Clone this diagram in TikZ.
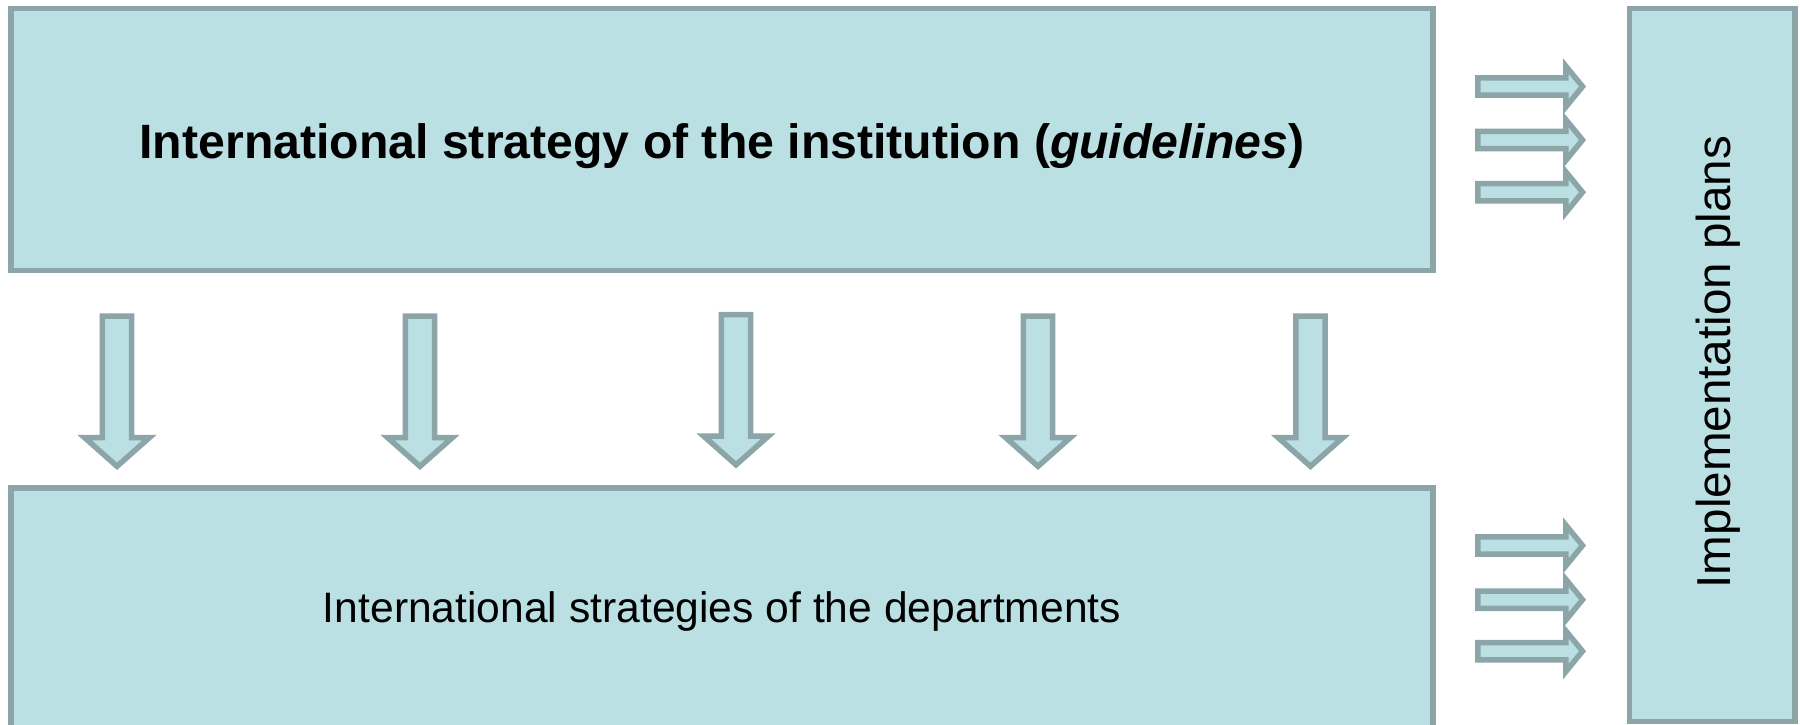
\documentclass[tikz,border=0pt]{standalone}
\usepackage{fontspec}
\setmainfont{Liberation Sans}
\definecolor{boxfill}{RGB}{187,224,227}
\definecolor{boxline}{RGB}{139,165,168}
\tikzset{
  x=1pt, y=-1pt,
  panel/.style={draw=boxline, fill=boxfill, line width=5.5pt, inner sep=0pt, outer sep=0pt, rectangle},
  blk/.style={draw=boxline, fill=boxfill, line width=5.5pt, line join=miter},
  downarr/.pic={\draw[blk] (-14.6,0) -- (14.6,0) -- (14.6,121.5) -- (32.5,121.5) -- (0,150.3) -- (-32.5,121.5) -- (-14.6,121.5) -- cycle;},
  rightarr/.pic={\draw[blk] (0,-8.6) -- (88,-8.6) -- (88,-20.5) -- (104.75,0) -- (88,20.5) -- (88,8.6) -- (0,8.6) -- cycle;},
  label/.style={inner sep=0pt, outer sep=0pt, anchor=base, text=black}
}
\begin{document}
\begin{tikzpicture}
\useasboundingbox (0,0) rectangle (1800,724);
\clip (0,0) rectangle (1800,724);
% boxes
\node[panel, minimum width=1422pt, minimum height=262pt] (inst) at (722,139.5) {};
\node[panel, minimum width=1422pt, minimum height=252pt] (dept) at (722,614) {};
\node[panel, minimum width=165.5pt, minimum height=713pt] (impl) at (1712.25,365) {};
% texts
\node[label, font=\fontsize{48.2}{58}\selectfont\bfseries] (instt) at (722,158.3) {International strategy of the institution (\textit{guidelines})};
\node[label, font=\fontsize{42.6}{52}\selectfont] (deptt) at (722,622.3) {International strategies of the departments};
\node[label, font=\fontsize{47.6}{58}\selectfont, rotate=90] (implt) at (1730,362) {Implementation plans};
% down arrows
\pic (d1) at (117,316) {downarr};
\pic (d2) at (420,316) {downarr};
\pic (d3) at (736,314.5) {downarr};
\pic (d4) at (1038,316) {downarr};
\pic (d5) at (1310.5,316) {downarr};
% right arrows, top
\pic (r1) at (1477.75,86.5) {rightarr};
\pic (r2) at (1477.75,140) {rightarr};
\pic (r3) at (1477.75,192.2) {rightarr};
% right arrows, bottom
\pic (r4) at (1477.75,545.5) {rightarr};
\pic (r5) at (1477.75,599.7) {rightarr};
\pic (r6) at (1477.75,651.2) {rightarr};
\end{tikzpicture}
\end{document}
